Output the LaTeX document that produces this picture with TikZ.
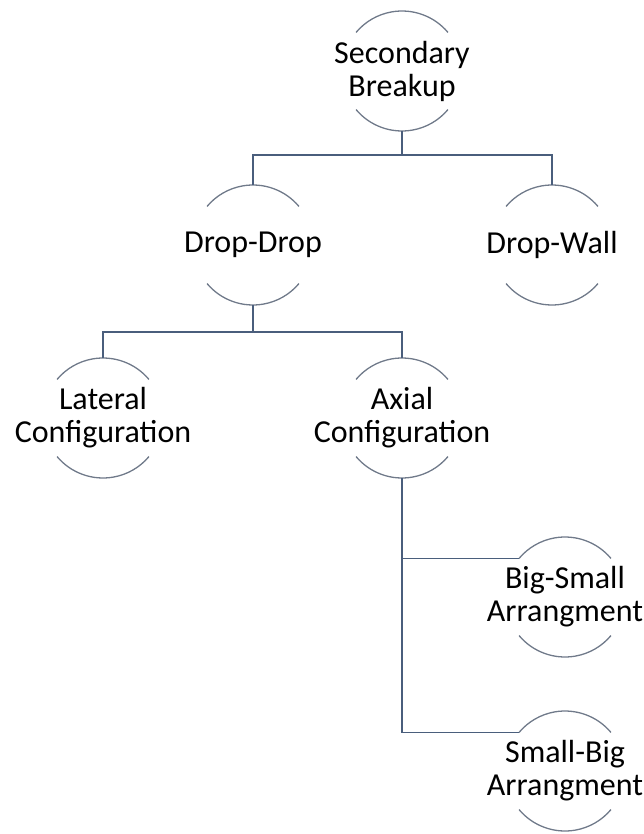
\documentclass[tikz,border=0pt]{standalone}
\usepackage{fontspec}
\setmainfont{Carlito}
\usepackage{tikz, xcolor}

\definecolor{rimgray}{RGB}{112,122,138}
\definecolor{linkblue}{RGB}{74,94,124}

\begin{document}
\begin{tikzpicture}[x=1pt, y=1pt,
    caption/.style={align=center, font=\fontsize{32}{33}\selectfont, text=black},
    bubble/.style={circle, minimum size=120pt, inner sep=0pt, outer sep=0pt, label={[caption]center:#1}},
    rim/.style={draw=rimgray, line width=1.3pt},
    link/.style={draw=linkblue, line width=1.4pt}]

    \useasboundingbox (0,0) rectangle (644,-834);

    \node[bubble={Secondary\\Breakup}] (sb) at (402,-71) {};

    \node[bubble={Drop-Drop}] (dd) at (253,-245) {};
    \node[bubble={Drop-Wall}] (dw) at (552,-245) {};

    \node[bubble={Lateral\\Configuration}] (lc) at (103,-418) {};
    \node[bubble={Axial\\Configuration}] (ac) at (402,-418) {};

    \node[bubble={Big-Small\\Arrangment}] (bs) at (565,-597) {};
    \node[bubble={Small-Big\\Arrangment}] (smb) at (565,-771) {};

    % arcs above and below each caption
    \foreach \n in {sb,dd,dw,lc,ac,bs,smb}{
        \draw[rim] (\n.40) arc[start angle=40, end angle=140, radius=60pt];
        \draw[rim] (\n.220) arc[start angle=220, end angle=320, radius=60pt];
    }

    \draw[link] (sb.south) -- ++(0,-24) -| (dd.north);
    \draw[link] (sb.south) -- ++(0,-24) -| (dw.north);

    \draw[link] (dd.south) -- ++(0,-27) -| (lc.north);
    \draw[link] (dd.south) -- ++(0,-27) -| (ac.north);

    \draw[link] (ac.south) |- (bs.140);
    \draw[link] (ac.south) |- (smb.140);

\end{tikzpicture}
\end{document}
